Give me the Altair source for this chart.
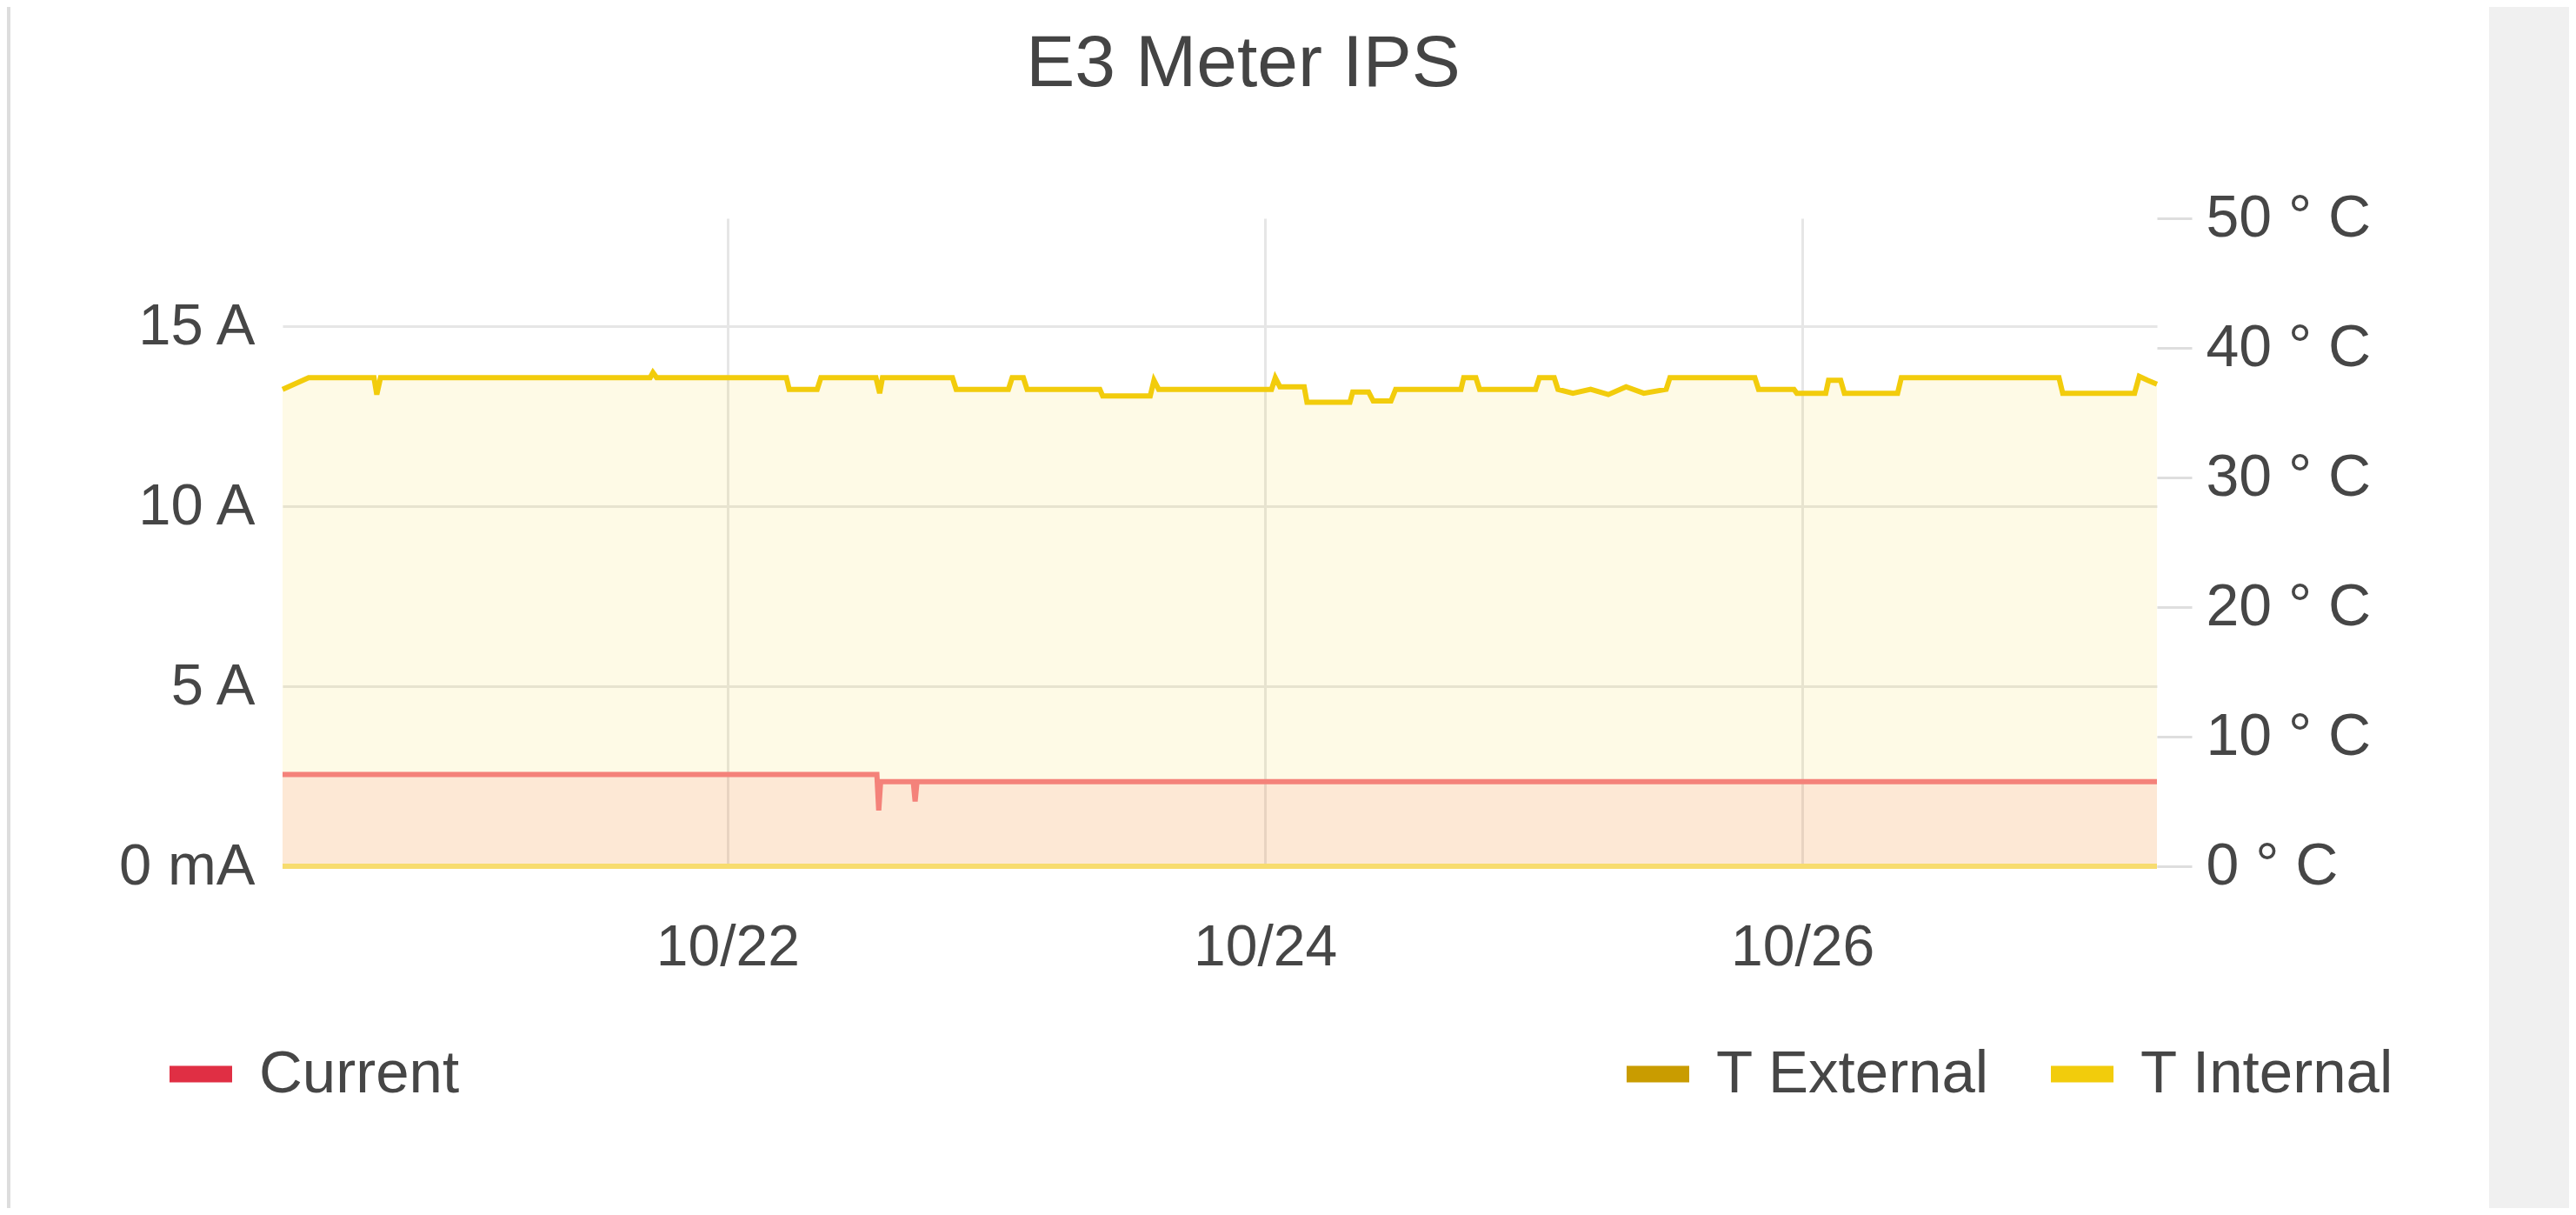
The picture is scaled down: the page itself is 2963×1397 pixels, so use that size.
import altair as alt
import pandas as pd

# ---------------- data ----------------
cur_times = ["2023-10-20T08:15", "2023-10-22T13:20", "2023-10-22T13:30", "2023-10-22T13:40",
             "2023-10-22T16:35", "2023-10-22T16:45", "2023-10-22T16:55", "2023-10-27T07:40"]
cur_vals = [2.55, 2.55, 1.55, 2.35, 2.35, 1.8, 2.35, 2.35]

tint_times = [
    "2023-10-20T08:15", "2023-10-20T10:35", "2023-10-20T16:25", "2023-10-20T16:40", "2023-10-20T17:00",
    "2023-10-21T17:05", "2023-10-21T17:20", "2023-10-21T17:40", "2023-10-22T05:15", "2023-10-22T05:30",
    "2023-10-22T08:00", "2023-10-22T08:20", "2023-10-22T13:15", "2023-10-22T13:35", "2023-10-22T13:50",
    "2023-10-22T20:05", "2023-10-22T20:25", "2023-10-23T01:05", "2023-10-23T01:25", "2023-10-23T02:25",
    "2023-10-23T02:45", "2023-10-23T09:15", "2023-10-23T09:30", "2023-10-23T13:45", "2023-10-23T14:05",
    "2023-10-23T14:30", "2023-10-24T00:35", "2023-10-24T00:55", "2023-10-24T01:20", "2023-10-24T03:30",
    "2023-10-24T03:45", "2023-10-24T07:35", "2023-10-24T07:50", "2023-10-24T09:15", "2023-10-24T09:40",
    "2023-10-24T11:15", "2023-10-24T11:40", "2023-10-24T17:30", "2023-10-24T17:45", "2023-10-24T18:50",
    "2023-10-24T19:10", "2023-10-25T00:10", "2023-10-25T00:30", "2023-10-25T01:50", "2023-10-25T02:10",
    "2023-10-25T03:30", "2023-10-25T05:05", "2023-10-25T06:40", "2023-10-25T08:15", "2023-10-25T09:50",
    "2023-10-25T11:50", "2023-10-25T12:10", "2023-10-25T19:45", "2023-10-25T20:05", "2023-10-25T23:15",
    "2023-10-25T23:30", "2023-10-26T02:05", "2023-10-26T02:20", "2023-10-26T03:25", "2023-10-26T03:45",
    "2023-10-26T08:30", "2023-10-26T08:50", "2023-10-26T22:55", "2023-10-26T23:15", "2023-10-27T05:40",
    "2023-10-27T06:05", "2023-10-27T06:50", "2023-10-27T07:40"]
tint_vals = [
    36.8, 37.7, 37.7, 36.4, 37.7,
    37.7, 38.1, 37.7, 37.7, 36.8,
    36.8, 37.7, 37.7, 36.5, 37.7,
    37.7, 36.8, 36.8, 37.7, 37.7,
    36.8, 36.8, 36.3, 36.3, 37.5,
    36.8, 36.8, 37.7, 37.0, 37.0,
    35.8, 35.8, 36.6, 36.6, 35.9,
    35.9, 36.8, 36.8, 37.7, 37.7,
    36.8, 36.8, 37.7, 37.7, 36.8,
    36.5, 36.8, 36.4, 37.0, 36.5,
    36.8, 37.7, 37.7, 36.8, 36.8,
    36.5, 36.5, 37.5, 37.5, 36.5,
    36.5, 37.7, 37.7, 36.5, 36.5,
    37.8, 37.5, 37.2]

text_times = ["2023-10-20T08:15", "2023-10-27T07:40"]
text_vals = [0.0, 0.0]

cur_series = ["Current"]
cur_colors = ["#e02f44"]
temp_series = ["T External", "T Internal"]
temp_colors = ["#c99c00", "#f2cc0c"]

amp_ticks = [0, 5, 10, 15]
deg_ticks = [0, 10, 20, 30, 40, 50]
date_ticks = [22, 24, 26]

# ---------------- styling ----------------
FONT = "Liberation Sans"
TXT = "#464646"
W, H = 2156, 745

cur_df = pd.DataFrame({"t": cur_times, "v": cur_vals})
tint_df = pd.DataFrame({"t": tint_times, "v": tint_vals})
text_df = pd.DataFrame({"t": text_times, "v": text_vals})
cur_leg_df = pd.DataFrame({"series": cur_series})
temp_leg_df = pd.DataFrame({"series": temp_series})
deco_df = pd.DataFrame({"k": [0]})

x_dom = [alt.DateTime(year=2023, month=10, date=20, hours=8, minutes=15),
         alt.DateTime(year=2023, month=10, date=27, hours=7, minutes=40)]
x_axis = alt.Axis(values=[alt.DateTime(year=2023, month=10, date=d) for d in date_ticks],
                  format="%m/%d", labelFontSize=66, labelFont=FONT, labelColor=TXT,
                  ticks=False, domain=False, grid=True, gridColor="#e6e6e6", gridWidth=3,
                  labelPadding=61, labelLimit=0, title=None)
x_enc = alt.X("t:T", scale=alt.Scale(domain=x_dom), axis=x_axis)

left_axis = alt.Axis(values=amp_ticks, labelExpr="datum.value == 0 ? '0 mA' : datum.value + ' A'",
                     orient="left", ticks=False, domain=False, grid=True, gridColor="#e6e6e6",
                     gridWidth=3, labelFontSize=67, labelFont=FONT, labelColor=TXT,
                     labelPadding=32, labelLimit=0, title=None)
y_cur = alt.Y("v:Q", scale=alt.Scale(domain=[0, 18], nice=False), axis=left_axis)

right_axis = alt.Axis(values=deg_ticks, labelExpr="datum.value + ' ° C'", orient="right",
                      ticks=True, tickSize=40, tickColor="#dedede", tickWidth=3, domain=False,
                      grid=False, labelFontSize=68, labelFont=FONT, labelColor=TXT,
                      labelPadding=16, labelLimit=0, title=None)
y_tmp = alt.Y("v:Q", scale=alt.Scale(domain=[0, 50], nice=False), axis=right_axis)

SYM = "M-1,-0.264H1V0.264H-1Z"

def legend(x, y):
    return alt.Legend(orient="none", legendX=x, legendY=y, direction="horizontal", title=None,
                      symbolType=SYM, symbolSize=5184, symbolStrokeWidth=0, symbolOpacity=1,
                      labelFontSize=69, labelFont=FONT, labelColor=TXT, labelOffset=31,
                      labelLimit=0, columnPadding=70, padding=0)

# decorations (panel frame)
panel = alt.Chart(deco_df).mark_rect(color="#f0f0f0").encode(
    x=alt.value(2538), x2=alt.value(2700), y=alt.value(-251), y2=alt.value(1200))
border = alt.Chart(deco_df).mark_rect(color="#dddddd").encode(
    x=alt.value(-317), x2=alt.value(-313), y=alt.value(-251), y2=alt.value(1200))

# current (left axis)
cur_area = alt.Chart(cur_df).mark_area(color="#f2495c", opacity=0.11).encode(x=x_enc, y=y_cur)
cur_line = alt.Chart(cur_df).mark_line(color="#f47a87", strokeWidth=6).encode(x=x_enc, y=y_cur)
cur_leg = alt.Chart(cur_leg_df).mark_square(size=0, filled=True, opacity=1).encode(
    color=alt.Color("series:N", scale=alt.Scale(domain=cur_series, range=cur_colors),
                    legend=legend(-130, 948)))
cur_layer = alt.layer(cur_area, cur_line, cur_leg)

# temperatures (right axis)
tint_area = alt.Chart(tint_df).mark_area(color="#f2cc0c", opacity=0.1).encode(x=x_enc, y=y_tmp)
tint_line = alt.Chart(tint_df).mark_line(color="#f2cc0c", strokeWidth=6).encode(x=x_enc, y=y_tmp)
text_line = alt.Chart(text_df).mark_line(color="#f7dc6f", strokeWidth=6).encode(x=x_enc, y=y_tmp)
temp_leg = alt.Chart(temp_leg_df).mark_square(size=0, filled=True, opacity=1).encode(
    color=alt.Color("series:N", scale=alt.Scale(domain=temp_series, range=temp_colors),
                    legend=legend(1546, 948)))
temp_layer = alt.layer(tint_area, text_line, tint_line, temp_leg)

chart = alt.layer(panel, border, cur_layer, temp_layer).resolve_scale(
    y="independent", color="independent"
).properties(
    width=W, height=H,
    title=alt.TitleParams(text="E3 Meter IPS", fontSize=84, font=FONT, fontWeight="normal",
                          color="#444444", anchor="middle", frame="group", dx=27,
                          baseline="alphabetic", offset=-183),
    autosize=alt.AutoSizeParams(type="none"),
    padding={"left": 317, "top": 243, "right": 474, "bottom": 393},
    background="white",
).configure_view(stroke=None)

chart.save("out.html", embed_options={"renderer": "svg", "actions": False})
